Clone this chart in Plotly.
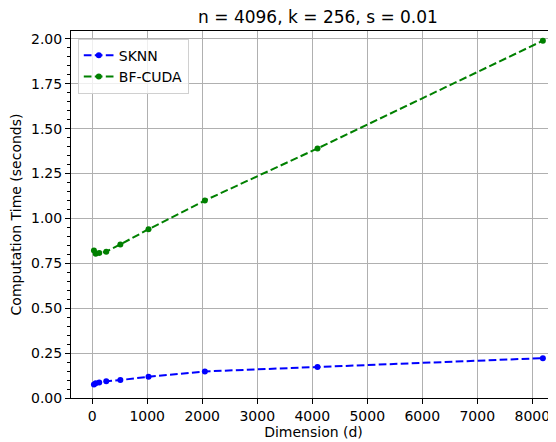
import plotly.graph_objects as go

dims = [32, 64, 128, 256, 512, 1024, 2048, 4096, 8192]
sknn_time = [0.075, 0.082, 0.087, 0.093, 0.100, 0.118, 0.148, 0.172, 0.222]
bfcuda_time = [0.822, 0.804, 0.808, 0.815, 0.855, 0.940, 1.100, 1.390, 1.990]
x_ticks = [0, 1000, 2000, 3000, 4000, 5000, 6000, 7000, 8000]
y_ticks = [0, 0.25, 0.5, 0.75, 1.0, 1.25, 1.5, 1.75, 2.0]
title = "n = 4096, k = 256, s = 0.01"

font = "DejaVu Sans"
dash = "7.7px,3.3px"

# page body has an 8px margin, so the figure is laid out 8px smaller
W, H = 548, 434

fig = go.Figure()
fig.add_trace(go.Scatter(x=dims, y=sknn_time, mode="lines+markers", name="SKNN",
                         line=dict(color="#0000ff", width=2, dash=dash),
                         marker=dict(color="#0000ff", size=6)))
fig.add_trace(go.Scatter(x=dims, y=bfcuda_time, mode="lines+markers", name="BF-CUDA",
                         line=dict(color="#008000", width=2, dash=dash),
                         marker=dict(color="#008000", size=6)))

fig.update_layout(
    width=W, height=H,
    margin=dict(l=63, r=0, t=23, b=44),
    paper_bgcolor="white", plot_bgcolor="white",
    font=dict(family=font, size=14, color="black"),
    title=dict(text=title, x=310 / W, xanchor="center", y=1 - 9 / H, yanchor="middle",
               font=dict(size=17, family=font)),
    showlegend=True,
    legend=dict(x=0.014, y=0.979, xanchor="left", yanchor="top",
                bgcolor="rgba(255,255,255,0.8)", bordercolor="#d0d0d0", borderwidth=1,
                font=dict(size=14, family=font), tracegroupgap=0,
                entrywidth=68, entrywidthmode="pixels"),
)
fig.update_xaxes(
    range=[-385, 8431], tickvals=x_ticks, ticktext=[str(v) for v in x_ticks],
    automargin=False,
    showgrid=True, gridcolor="#b0b0b0", gridwidth=1,
    showline=True, linecolor="black", linewidth=1, mirror=True,
    ticks="outside", ticklen=5, tickcolor="black", zeroline=False,
    title=dict(text="Dimension (d)", font=dict(size=14), standoff=4),
    tickfont=dict(size=14),
)
fig.update_yaxes(
    range=[0, 2.044], tickvals=y_ticks, ticktext=["%.2f" % v for v in y_ticks],
    automargin=False,
    showgrid=True, gridcolor="#b0b0b0", gridwidth=1,
    showline=True, linecolor="black", linewidth=1,
    ticks="outside", ticklen=5, tickcolor="black", zeroline=False,
    minor=dict(dtick=0.05, tick0=0, ticks="outside", ticklen=3, tickcolor="black", showgrid=False),
    title=dict(text="Computation Time (seconds)", font=dict(size=14), standoff=6),
    tickfont=dict(size=14),
)

fig.write_html("out.html")
